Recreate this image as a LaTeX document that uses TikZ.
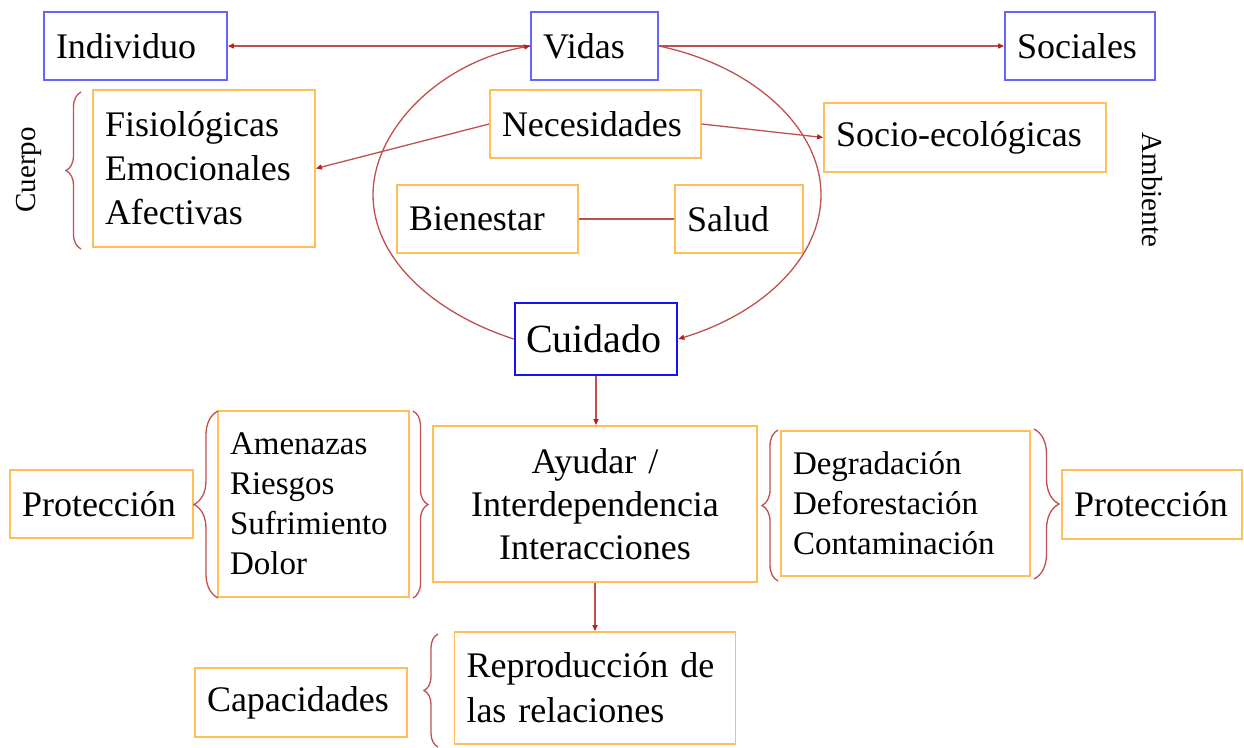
\documentclass[tikz,border=0pt]{standalone}
\usepackage{fontspec}
\setmainfont{Liberation Serif}
\usetikzlibrary{arrows.meta,decorations.pathreplacing}
\definecolor{rl}{RGB}{192,80,77}
\definecolor{rd}{RGB}{175,35,25}
\definecolor{bb}{RGB}{100,100,255}
\definecolor{ob}{RGB}{255,190,90}
\definecolor{cb}{RGB}{20,20,240}
\begin{document}
\begin{tikzpicture}[x=1pt,y=-1pt,
  bigf/.style={font=\fontsize{36}{44}\selectfont},
  midf/.style={font=\fontsize{33}{40}\selectfont},
  smallf/.style={font=\fontsize{29}{34}\selectfont},
  bx/.style={draw, line width=1.8pt, inner xsep=12pt, inner ysep=0pt, align=left, text=black},
  bluebox/.style={bx, draw=bb, bigf},
  orbox/.style={bx, draw=ob, bigf},
  conn/.style={draw=rl, line width=1.3pt},
  arr/.style={conn, -{Triangle[length=6pt,width=5pt,fill=rd,color=rd]}},
  brc/.style={draw=rl, line width=1.3pt, decorate, decoration={brace, amplitude=#1}},
]
\useasboundingbox (0,0) rectangle (1244,747);

% top row
\node[bluebox, text width=159pt, minimum height=68pt] (ind) at (135.5,46) {Individuo};
\node[bluebox, text width=103pt, minimum height=68pt] (vid) at (594.5,46) {Vidas};
\node[bluebox, text width=126pt, minimum height=68pt] (soc) at (1080,46) {Sociales};

% needs
\node[orbox, text width=198pt, minimum height=157pt] (fis) at (204,168.5) {Fisiológicas\\Emocionales\\Afectivas};
\node[orbox, text width=187pt, minimum height=68pt] (nec) at (595.5,124) {Necesidades};
\node[orbox, text width=258pt, minimum height=69pt] (seco) at (965,137.5) {Socio-ecológicas};
\node[orbox, text width=157pt, minimum height=68pt] (bien) at (487.5,219) {Bienestar};
\node[orbox, text width=104pt, minimum height=68pt] (sal) at (739,219) {Salud};

% care
\node[bx, draw=cb, line width=2.6pt, inner xsep=11pt, text width=140pt, minimum height=72pt,
      font=\fontsize{40}{46}\selectfont] (cui) at (596,339) {Cuidado};

\node[orbox, align=center, text width=300pt, minimum height=156pt, font=\fontsize{36}{43}\selectfont] (ayu) at (595,504) {Ayudar /\\Interdependencia\\Interacciones};
\node[orbox, midf, text width=167pt, minimum height=186pt] (ame) at (313.5,504) {Amenazas\\Riesgos\\Sufrimiento\\Dolor};
\node[orbox, text width=159pt, minimum height=68pt] (protl) at (101.5,504) {Protección};
\node[orbox, midf, text width=225pt, minimum height=145pt] (deg) at (905.5,503.5) {Degradación\\Deforestación\\Contaminación};
\node[orbox, text width=156pt, minimum height=69pt] (protr) at (1152,504.5) {Protección};
\node[orbox, text width=188pt, minimum height=69pt] (cap) at (301,702.5) {Capacidades};
\node[orbox, font=\fontsize{36}{45}\selectfont, text width=257pt, minimum height=112pt] (rep) at (595,688) {Reproducción de\\las relaciones};

% side labels
\node[smallf, rotate=90] (cuerpo) at (29,170) {Cuerpo};
\node[smallf, rotate=-90] (amb) at (1152,190) {Ambiente};

% connectors
\draw[arr] (vid.west) -- (ind.east);
\draw[arr] (vid.east) -- (soc.west);
\draw[arr] (nec.west) -- (fis.east);
\draw[arr] (nec.east) -- (seco.west);
\draw[conn] (bien.east) -- (sal.west);
\draw[arr] (cui.south) -- (cui.south |- ayu.north);
\draw[arr] (ayu.south) -- (ayu.south |- rep.north);

% ellipse arcs
\draw[arr] (cui.west) .. controls (430.5,312) and (373,256.5) .. (373,195)
           .. controls (373,129.4) and (440,62) .. (vid.west);
\draw[arr] (vid.east) .. controls (754,66) and (821,128) .. (821,195)
           .. controls (821,257) and (764,313) .. (cui.east);

% braces
\draw[brc=15] (81,249) -- (81,92);
\draw[brc=24] (218,598) -- (218,411);
\draw[brc=15] (413,411) -- (413,598);
\draw[brc=16] (778,581) -- (778,430);
\draw[brc=25] (1034,429) -- (1034,579);
\draw[brc=14] (438,747) -- (438,634);
\end{tikzpicture}
\end{document}
